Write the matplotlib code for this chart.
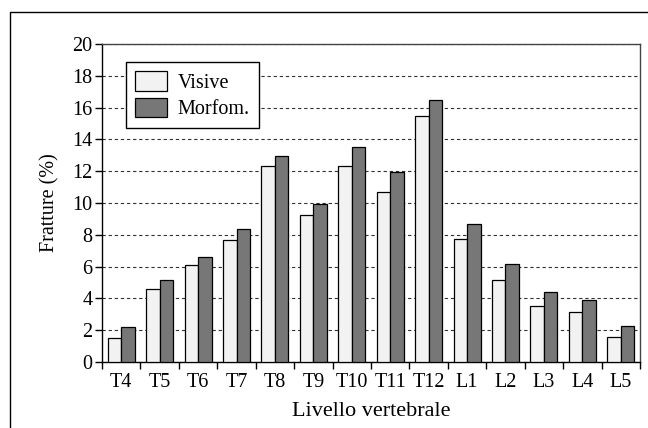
import numpy as np
import matplotlib.pyplot as plt
from matplotlib.patches import Rectangle

levels = ["T4", "T5", "T6", "T7", "T8", "T9", "T10", "T11", "T12",
          "L1", "L2", "L3", "L4", "L5"]
visive = [1.5, 4.6, 6.1, 7.7, 12.35, 9.25, 12.35, 10.7, 15.45,
          7.75, 5.15, 3.5, 3.15, 1.55]
morfom = [2.2, 5.15, 6.6, 8.35, 12.95, 9.95, 13.5, 11.95, 16.45,
          8.65, 6.15, 4.4, 3.9, 2.25]

plt.rcParams["font.family"] = ["Liberation Serif", "DejaVu Serif"]
plt.rcParams["font.size"] = 14.5

fig = plt.figure(figsize=(6.48, 4.28), dpi=100)
ax = fig.add_axes([102 / 648, 1 - 362 / 428, 538 / 648, 318 / 428])

# outer frame around the whole figure (cut at right/bottom edge)
fig.patches.append(Rectangle((10 / 648, -0.1), 1.2, 1 - 12 / 428 + 0.1,
                             transform=fig.transFigure, fill=False,
                             edgecolor="black", linewidth=1.0))

x = np.arange(len(levels))
w = 0.35
ax.bar(x - w / 2, visive, w, color="#f2f2f2", edgecolor="black",
       linewidth=0.9, label="Visive", zorder=3)
ax.bar(x + w / 2, morfom, w, color="#777777", edgecolor="black",
       linewidth=0.9, label="Morfom.", zorder=3)

ax.set_xlim(-0.5, len(levels) - 0.5)
ax.set_ylim(0, 20)
ax.set_yticks(range(0, 21, 2))
ax.yaxis.grid(True, linestyle=(0, (3, 2.5)), color="#333333", linewidth=0.8)
ax.set_axisbelow(True)

ax.set_xticks(x)
ax.set_xticklabels(levels)
ax.set_xticks(np.arange(-0.5, len(levels)), minor=True)
ax.tick_params(axis="x", which="major", length=0, pad=8)
ax.tick_params(axis="x", which="minor", length=5, width=1, direction="out")
ax.tick_params(axis="y", length=5, width=1, direction="out", pad=2)

for s in ax.spines.values():
    s.set_linewidth(1.0)
ax.spines["top"].set_color("#444444")
ax.spines["right"].set_color("#444444")

ax.set_xlabel("Livello vertebrale", fontsize=16, labelpad=7)
ax.set_ylabel("Fratture (%)", labelpad=9)

leg = ax.legend(loc="upper left", bbox_to_anchor=(0.045, 0.943),
                borderaxespad=0, fancybox=False, edgecolor="black",
                framealpha=1, handlelength=1.6, handleheight=1.1,
                borderpad=0.45, labelspacing=0.25, handletextpad=0.5,
                fontsize=14.5)
leg.get_frame().set_linewidth(1.0)

fig.savefig("out.png", dpi=100)
